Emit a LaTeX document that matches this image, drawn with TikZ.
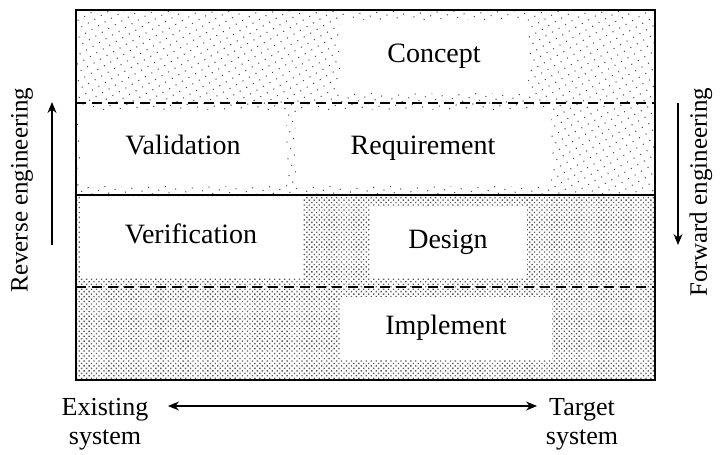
\documentclass[tikz,border=0pt]{standalone}
\usepackage{fontspec}
\setmainfont{Liberation Serif}
\usepackage{tikz}
\usetikzlibrary{arrows.meta,patterns.meta}

\begin{document}
\begin{tikzpicture}[x=1pt,y=-1pt,font=\fontsize{26}{29}\selectfont,
    stage/.style={fill=white,inner sep=0pt,align=center,font=\fontsize{28}{30}\selectfont,text height=15pt,text depth=1.5pt},
    side label/.style={rotate=90,inner sep=0pt,font=\fontsize{25}{28}\selectfont},
    flow/.style={line width=1.1pt,-{Stealth[length=11pt,width=9pt]}},
    both flow/.style={line width=1.1pt,{Stealth[length=11pt,width=9pt]}-{Stealth[length=11pt,width=9pt]}},
    sparse/.style={pattern={Dots[radius=0.75pt,distance=7.5pt,angle=30]},pattern color=black!70},
    dense/.style={pattern={Dots[radius=0.95pt,distance=3.5pt,angle=45]},pattern color=black!65}]
  \useasboundingbox (0,0) rectangle (720,455);
  % shaded halves
  \fill[sparse] (76,10) rectangle (655,195);
  \fill[dense] (76,195) rectangle (655,380);
  % white boxes
  \node[stage,minimum width=188,minimum height=73] (concept) at (434,56) {Concept};
  \node[stage,minimum width=206,minimum height=76] (validation) at (183,148) {Validation};
  \node[stage,minimum width=255,minimum height=76] (requirement) at (423,148) {Requirement};
  \node[stage,minimum width=223,minimum height=81] (verification) at (191,237) {Verification};
  \node[stage,minimum width=157,minimum height=71] (design) at (448,242) {Design};
  \node[stage,minimum width=212,minimum height=63] (implement) at (446,328) {Implement};
  % frame
  \draw[line width=1.3pt] (76,10) rectangle (655,380);
  \draw[line width=1.3pt] (76,195) -- (655,195);
  \draw[line width=1.3pt,dash pattern=on 10pt off 6pt] (76,103) -- (655,103);
  \draw[line width=1.3pt,dash pattern=on 10pt off 6pt] (76,287) -- (655,287);
  % side arrows
  \node[side label] (reverse) at (22,190) {Reverse engineering};
  \node[side label] (forward) at (701,192) {Forward engineering};
  \coordinate (rev-from) at (52,245);
  \coordinate (rev-to) at (52,102);
  \coordinate (fwd-from) at (678,103);
  \coordinate (fwd-to) at (678,245);
  \draw[flow] (rev-from) -- (rev-to);
  \draw[flow] (fwd-from) -- (fwd-to);
  % bottom
  \node[align=center,inner sep=0pt] (existing) at (105,424) {Existing\\system};
  \node[align=center,inner sep=0pt] (target) at (582,424) {Target\\system};
  \coordinate (exist-end) at (168,406);
  \coordinate (target-end) at (537,406);
  \draw[both flow] (exist-end) -- (target-end);
\end{tikzpicture}
\end{document}
